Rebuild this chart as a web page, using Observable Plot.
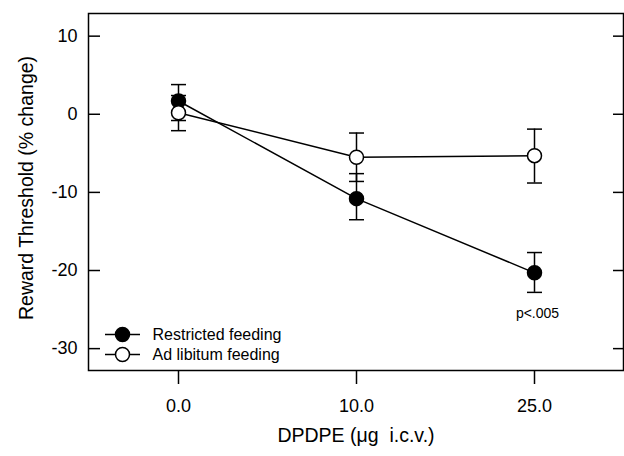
<!DOCTYPE html>
<html>
<head>
<meta charset="utf-8">
<script src="https://cdn.jsdelivr.net/npm/d3@7"></script>
<script src="https://cdn.jsdelivr.net/npm/@observablehq/plot@0.6"></script>
<style>
  html, body { margin: 0; padding: 0; background: #fff; }
</style>
</head>
<body>
<div id="chart"></div>
<script>
const doses = ["0.0", "10.0", "25.0"];
const yTicks = [10, 0, -10, -20, -30];

const restricted   = [1.7, -10.8, -20.3];
const restrictedLo = [-0.8, -13.5, -22.8];
const restrictedHi = [3.8, -7.6, -17.7];

const adlib   = [0.2, -5.5, -5.3];
const adlibLo = [-2.1, -8.6, -8.8];
const adlibHi = [2.4, -2.4, -1.9];

const seriesNames = ["Restricted feeding", "Ad libitum feeding"];
const annotation = "p<.005";

const rows = [];
doses.forEach((d, i) => {
  rows.push({dose: d, group: seriesNames[0], v: restricted[i], lo: restrictedLo[i], hi: restrictedHi[i], filled: true});
  rows.push({dose: d, group: seriesNames[1], v: adlib[i], lo: adlibLo[i], hi: adlibHi[i], filled: false});
});

const capSymbol = { draw(ctx) { ctx.moveTo(-7.5, 0); ctx.lineTo(7.5, 0); } };
const legendLine = { draw(ctx) { ctx.moveTo(-17.5, 0); ctx.lineTo(17.5, 0); } };

const font = "Liberation Sans, Arial, Helvetica, sans-serif";

const legendMarks = seriesNames.map((name, i) => [
  Plot.dot([name], { frameAnchor: "bottom-left", dx: 34, dy: i === 0 ? -36 : -16, symbol: legendLine, r: 7, stroke: "#000", strokeWidth: 1.5, fill: "none" }),
  Plot.dot([name], { frameAnchor: "bottom-left", dx: 34, dy: i === 0 ? -36 : -16, r: 7, stroke: "#000", strokeWidth: 1.5, fill: i === 0 ? "#000" : "#fff" }),
  Plot.text([name], { frameAnchor: "bottom-left", dx: 64, dy: i === 0 ? -36 : -16, textAnchor: "start", lineAnchor: "middle", fontSize: 16, fill: "#000" })
]).flat();

const full = Plot.plot({
  width: 624,
  height: 456,
  marginLeft: 88,
  marginRight: 1,
  marginTop: 13,
  marginBottom: 86,
  style: { fontFamily: font, background: "#fff", color: "#000" },
  x: { type: "point", domain: doses, padding: 0.5 },
  y: { domain: [-32.8, 12.9] },
  marks: [
    Plot.frame({ stroke: "#000", strokeWidth: 1.5 }),
    Plot.axisY({ anchor: "left", ticks: yTicks, tickSize: -12, tickPadding: 23, fontSize: 18, strokeWidth: 1.5, label: null, tickFormat: d => String(d) }),
    Plot.axisY({ anchor: "right", ticks: yTicks, tickSize: -11, strokeWidth: 1.5, tickFormat: () => "", label: null }),
    Plot.axisX({ anchor: "bottom", tickSize: 14, tickPadding: 15, fontSize: 18, strokeWidth: 1.5, label: null }),
    Plot.text(["Reward Threshold (% change)"], { frameAnchor: "left", textAnchor: "middle", lineAnchor: "middle", rotate: -90, dx: -62, dy: -4, fontSize: 19.5, fill: "#000" }),
    Plot.text(["DPDPE (\u03bcg  i.c.v.)"], { frameAnchor: "bottom", textAnchor: "middle", lineAnchor: "middle", dy: 65, fontSize: 19.5, fill: "#000" }),
    Plot.line(rows, { x: "dose", y: "v", z: "group", stroke: "#000", strokeWidth: 1.5 }),
    Plot.ruleX(rows, { x: "dose", y1: "lo", y2: "hi", stroke: "#000", strokeWidth: 1.5 }),
    Plot.dot(rows, { x: "dose", y: "lo", symbol: capSymbol, r: 7, stroke: "#000", strokeWidth: 1.5, fill: "none" }),
    Plot.dot(rows, { x: "dose", y: "hi", symbol: capSymbol, r: 7, stroke: "#000", strokeWidth: 1.5, fill: "none" }),
    Plot.dot(rows, { x: "dose", y: "v", r: 7, stroke: "#000", strokeWidth: 1.5, fill: d => d.filled ? "#000" : "#fff" }),
    Plot.text([annotation], { x: () => doses[2], y: () => -25.5, dx: 3, fontSize: 14, fill: "#000" }),
    ...legendMarks
  ]
});

document.getElementById("chart").appendChild(full);
</script>
</body>
</html>
